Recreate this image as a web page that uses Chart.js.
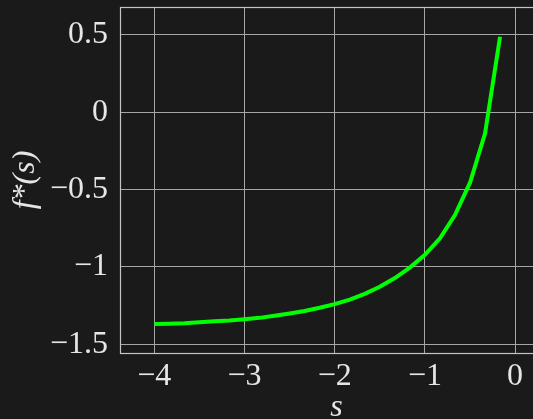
<!DOCTYPE html>
<html>
<head>
<meta charset="utf-8">
<script src="https://cdn.jsdelivr.net/npm/chart.js@4"></script>
<style>
  html, body { margin: 0; padding: 0; background: #1a1a1a; overflow: hidden; }
</style>
</head>
<body>
<canvas id="conjChart" width="553" height="419"></canvas>
<script>
// sample points of s
var sValues = [-4, -3.833, -3.667, -3.5, -3.333, -3.167, -3, -2.833, -2.667, -2.5, -2.333, -2.167,
               -2, -1.833, -1.667, -1.5, -1.333, -1.167, -1, -0.833, -0.667, -0.5, -0.333, -0.167];
var fValues = [-1.369, -1.367, -1.364, -1.358, -1.351, -1.346, -1.338, -1.329, -1.315, -1.301, -1.285, -1.264,
               -1.240, -1.211, -1.174, -1.128, -1.072, -1.004, -0.922, -0.815, -0.665, -0.456, -0.137, 0.487];
var xTicks = [-4, -3, -2, -1, 0];
var yTicks = [-1.5, -1, -0.5, 0, 0.5];

var textColor = '#e6e6e6';
var gridColor = '#a6a6a6';
var serif = "'Liberation Serif', 'DejaVu Serif', serif";

function minus(v) {
    return String(v).replace('-', '\u2212');
}

// frame around the plot area, like the axes box in the original
var frame = {
    id: 'frame',
    afterDraw: function (chart) {
        var a = chart.chartArea, ctx = chart.ctx;
        ctx.save();
        ctx.strokeStyle = '#c4c4c4';
        ctx.lineWidth = 1.2;
        ctx.strokeRect(a.left + 0.5, a.top + 0.5, a.right - a.left, a.bottom - a.top);
        ctx.restore();
    }
};

var points = sValues.map(function (s, i) { return { x: s, y: fValues[i] }; });

new Chart(document.getElementById('conjChart').getContext('2d'), {
    type: 'line',
    data: {
        datasets: [{
            data: points,
            borderColor: 'rgb(0, 255, 0)',
            borderWidth: 4,
            pointRadius: 0,
            tension: 0,
            fill: false
        }]
    },
    options: {
        responsive: false,
        animation: false,
        layout: { padding: { top: 7, left: 0, right: 0, bottom: 0 } },
        plugins: {
            legend: { display: false },
            tooltip: { enabled: false }
        },
        scales: {
            x: {
                type: 'linear',
                min: -4.38,
                max: 0.42,
                afterFit: function (scale) {
                    scale.height = 66;
                    scale.paddingLeft = 0;
                    scale.paddingRight = 0;
                },
                afterBuildTicks: function (scale) {
                    scale.ticks = xTicks.map(function (v) { return { value: v }; });
                },
                ticks: {
                    color: textColor,
                    font: { family: serif, size: 32 },
                    padding: 4,
                    maxRotation: 0,
                    callback: function (v) { return minus(v); }
                },
                grid: { color: gridColor, lineWidth: 1, drawTicks: false },
                border: { display: false },
                title: {
                    display: true,
                    text: 's',
                    color: textColor,
                    font: { family: serif, size: 32, style: 'italic', lineHeight: 0.72 },
                    padding: 0
                }
            },
            y: {
                type: 'linear',
                min: -1.556,
                max: 0.679,
                afterFit: function (scale) {
                    scale.width = 120;
                    scale.paddingTop = 0;
                    scale.paddingBottom = 0;
                },
                afterBuildTicks: function (scale) {
                    scale.ticks = yTicks.map(function (v) { return { value: v }; });
                },
                ticks: {
                    color: textColor,
                    font: { family: serif, size: 32 },
                    padding: 12,
                    callback: function (v) { return minus(v); }
                },
                grid: { color: gridColor, lineWidth: 1, drawTicks: false },
                border: { display: false },
                title: {
                    display: true,
                    text: 'f*(s)',
                    color: textColor,
                    font: { family: serif, size: 32, style: 'italic', lineHeight: 1 },
                    padding: { top: 10, bottom: 0 }
                }
            }
        }
    },
    plugins: [frame]
});
</script>
</body>
</html>
